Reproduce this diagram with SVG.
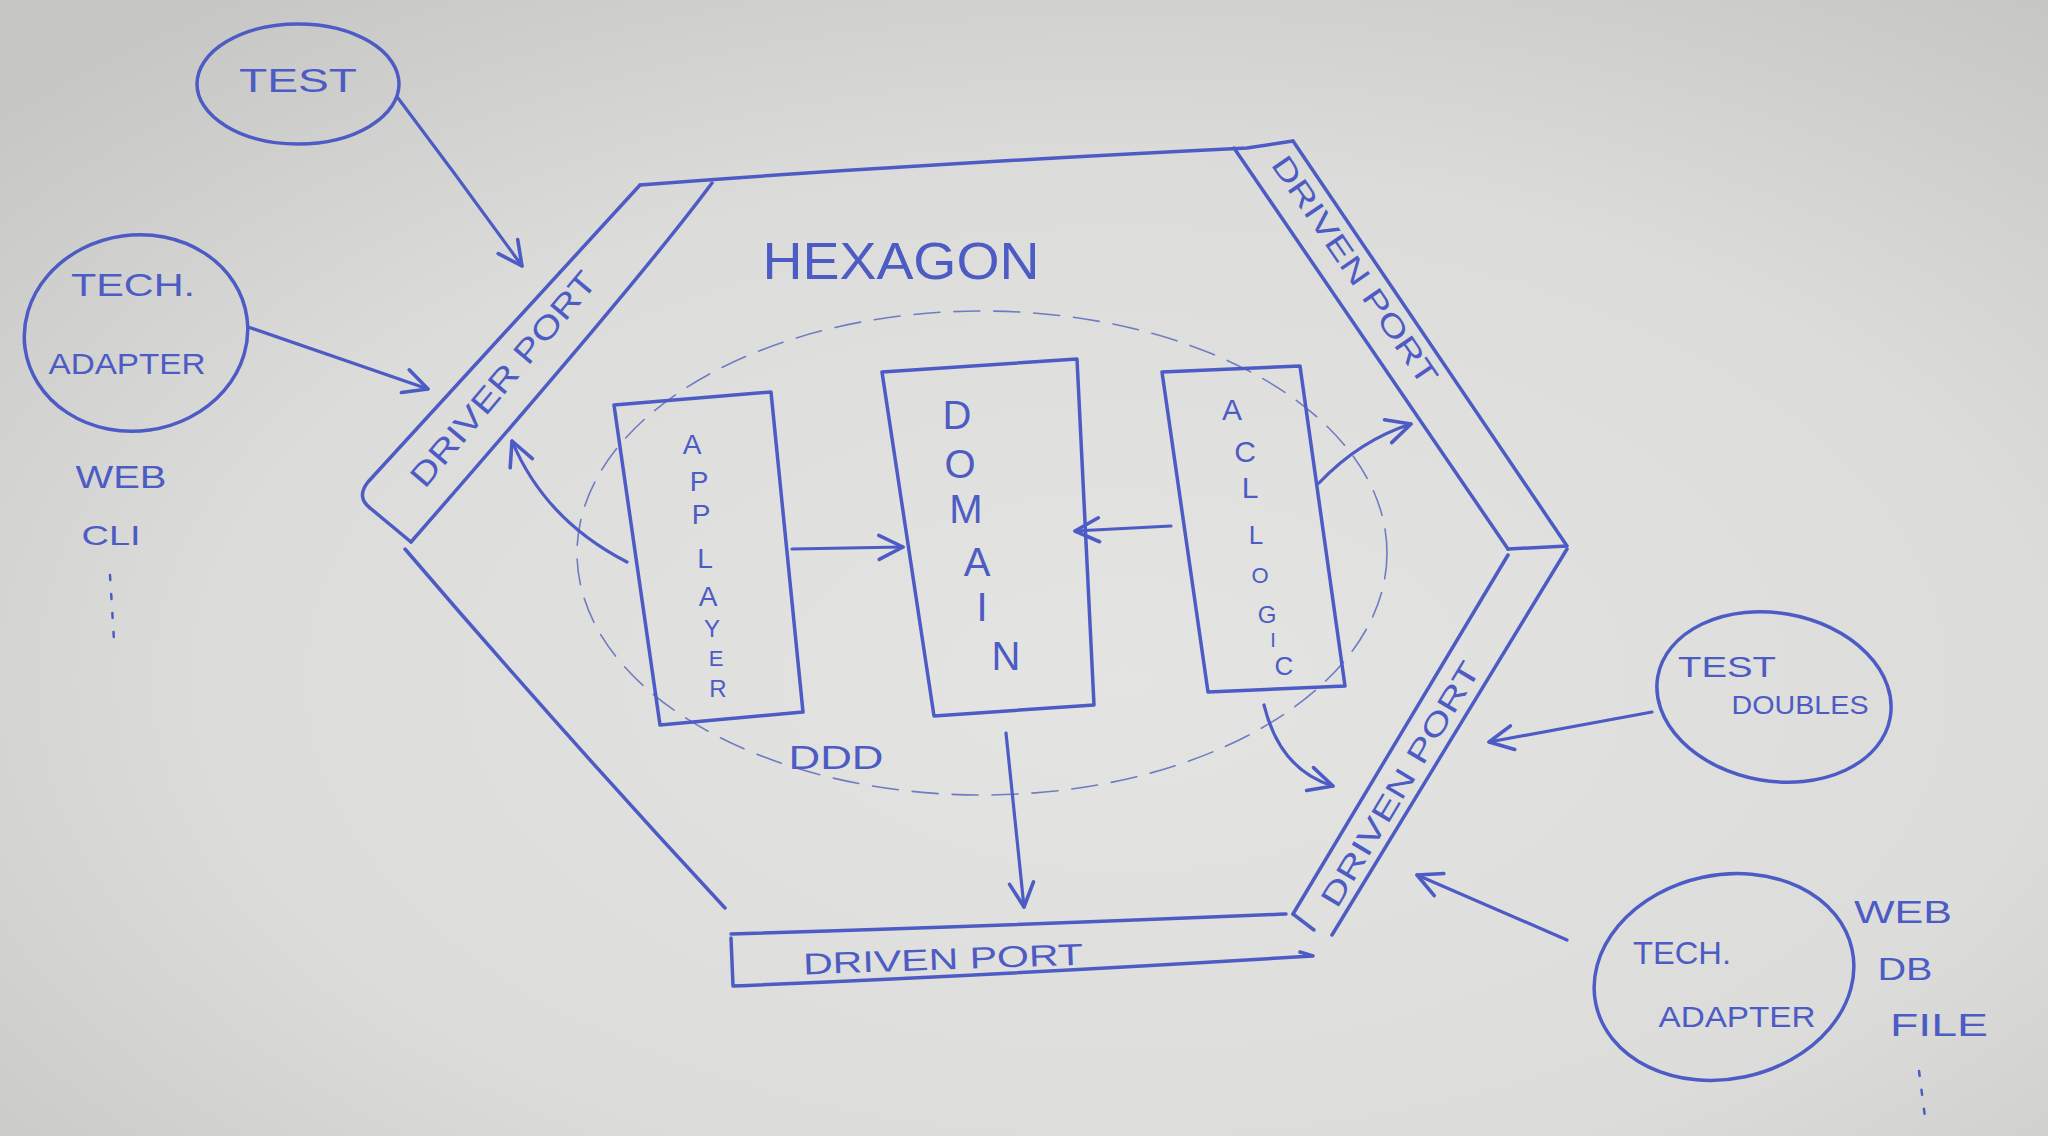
<svg xmlns="http://www.w3.org/2000/svg" width="2048" height="1136" viewBox="0 0 2048 1136">
<defs>
<radialGradient id="paper" cx="55%" cy="60%" r="75%">
<stop offset="0" stop-color="#e4e4e2"/>
<stop offset="0.6" stop-color="#dcdcda"/>
<stop offset="1" stop-color="#c6c6c4"/>
</radialGradient>
<marker id="arr" viewBox="0 0 20 20" refX="18" refY="10" markerWidth="30" markerHeight="30" markerUnits="userSpaceOnUse" orient="auto">
<path d="M2,2 L18,10 L2,18" fill="none" stroke="#4c5cc4" stroke-width="2.4" stroke-linecap="round" stroke-linejoin="round"/>
</marker>
<style>
.pen{fill:none;stroke:#4c5cc4;stroke-width:3.5;stroke-linecap:round;stroke-linejoin:round}
.thin{fill:none;stroke:#6f7cc4;stroke-width:1.6;stroke-dasharray:26 14;stroke-linecap:round}
.lbl{font-family:"Liberation Sans",Arial,sans-serif;fill:#4c5cc4;text-anchor:middle;dominant-baseline:central}
.con{fill:none;stroke:#4c5cc4;stroke-width:3.2;stroke-linecap:round;marker-end:url(#arr)}
</style>
</defs>
<rect width="2048" height="1136" fill="url(#paper)"/>

<g id="hexagon">
<path class="pen" d="M405,549 Q560,730 725,908"/>
<path class="pen" d="M640,185 Q900,165 1247,148 L1293,141"/>
<text class="lbl" x="901" y="261" font-size="52" textLength="277" lengthAdjust="spacingAndGlyphs">HEXAGON</text>
</g>

<g id="driver-port">
<path class="pen" d="M640,185 L368,482 Q356,497 370,508 L411,542"/>
<path class="pen" d="M712,183 Q640,280 411,542"/>
<text class="lbl" font-size="32" transform="translate(503,379) rotate(-50)" textLength="270" lengthAdjust="spacingAndGlyphs">DRIVER PORT</text>
</g>

<g id="driven-port-top">
<path class="pen" d="M1234,148 L1508,549"/>
<path class="pen" d="M1293,141 L1567,546 L1508,549"/>
<text class="lbl" font-size="30" transform="translate(1355,270) rotate(55.7)" textLength="270" lengthAdjust="spacingAndGlyphs">DRIVEN PORT</text>
</g>

<g id="driven-port-right">
<path class="pen" d="M1508,555 L1293,914"/>
<path class="pen" d="M1567,549 L1332,935"/>
<path class="pen" d="M1293,914 L1314,930"/>
<text class="lbl" font-size="30" transform="translate(1400,784) rotate(-59)" textLength="280" lengthAdjust="spacingAndGlyphs">DRIVEN PORT</text>
</g>

<g id="driven-port-bottom">
<path class="pen" d="M731,934 Q1000,926 1286,914"/>
<path class="pen" d="M731,938 L733,986 Q1000,975 1313,956 L1300,952"/>
<text class="lbl" font-size="30" transform="translate(943,959) rotate(-2)" textLength="280" lengthAdjust="spacingAndGlyphs">DRIVEN PORT</text>
</g>

<g id="ddd">
<ellipse class="thin" cx="982" cy="553" rx="405" ry="242"/>
<text class="lbl" x="836" y="757" font-size="34" textLength="95" lengthAdjust="spacingAndGlyphs">DDD</text>
</g>

<g id="app-layer">
<path class="pen" d="M614,405 L771,392 L803,712 L660,725 Z"/>
<text class="lbl" font-size="28">
<tspan x="692" y="444">A</tspan><tspan x="699" y="481">P</tspan><tspan x="701" y="514">P</tspan><tspan x="705" y="558">L</tspan><tspan x="708" y="596">A</tspan><tspan x="712" y="628" font-size="24">Y</tspan><tspan x="716" y="658" font-size="22">E</tspan><tspan x="718" y="688" font-size="24">R</tspan>
</text>
</g>

<g id="domain">
<path class="pen" d="M882,372 L1077,359 L1094,705 L934,716 Z"/>
<text class="lbl" font-size="40">
<tspan x="957" y="415">D</tspan><tspan x="960" y="464">O</tspan><tspan x="966" y="509">M</tspan><tspan x="977" y="562">A</tspan><tspan x="982" y="607">I</tspan><tspan x="1006" y="656">N</tspan>
</text>
</g>

<g id="acl-logic">
<path class="pen" d="M1162,372 L1300,366 L1345,686 L1208,692 Z"/>
<text class="lbl" font-size="30">
<tspan x="1232" y="409">A</tspan><tspan x="1245" y="451">C</tspan><tspan x="1250" y="487">L</tspan><tspan x="1256" y="535" font-size="26">L</tspan><tspan x="1260" y="575" font-size="22">O</tspan><tspan x="1267" y="614" font-size="24">G</tspan><tspan x="1273" y="640" font-size="20">I</tspan><tspan x="1284" y="666" font-size="26">C</tspan>
</text>
</g>

<g id="test">
<ellipse class="pen" cx="298" cy="84" rx="101" ry="60"/>
<text class="lbl" x="298" y="80" font-size="34" textLength="118" lengthAdjust="spacingAndGlyphs">TEST</text>
</g>

<g id="tech-adapter-left">
<ellipse class="pen" cx="136" cy="333" rx="112" ry="98" transform="rotate(-8 136 333)"/>
<text class="lbl" x="133" y="285" font-size="32" textLength="124" lengthAdjust="spacingAndGlyphs">TECH.</text>
<text class="lbl" x="127" y="363" font-size="30" textLength="157" lengthAdjust="spacingAndGlyphs">ADAPTER</text>
</g>

<g id="driver-examples">
<text class="lbl" x="121" y="477" font-size="32" textLength="91" lengthAdjust="spacingAndGlyphs">WEB</text>
<text class="lbl" x="111" y="535" font-size="28" textLength="59" lengthAdjust="spacingAndGlyphs">CLI</text>
<path d="M110,575 L114,640" fill="none" stroke="#4c5cc4" stroke-width="2.5" stroke-dasharray="5 14" stroke-linecap="round"/>
</g>

<g id="test-doubles">
<ellipse class="pen" cx="1774" cy="697" rx="118" ry="84" transform="rotate(10 1774 697)"/>
<text class="lbl" x="1727" y="666" font-size="30" textLength="98" lengthAdjust="spacingAndGlyphs">TEST</text>
<text class="lbl" x="1800" y="705" font-size="26" textLength="137" lengthAdjust="spacingAndGlyphs">DOUBLES</text>
</g>

<g id="tech-adapter-right">
<ellipse class="pen" cx="1724" cy="977" rx="131" ry="102" transform="rotate(-12 1724 977)"/>
<text class="lbl" x="1682" y="953" font-size="32" textLength="98" lengthAdjust="spacingAndGlyphs">TECH.</text>
<text class="lbl" x="1737" y="1016" font-size="30" textLength="157" lengthAdjust="spacingAndGlyphs">ADAPTER</text>
</g>

<g id="driven-examples">
<text class="lbl" x="1903" y="912" font-size="32" textLength="98" lengthAdjust="spacingAndGlyphs">WEB</text>
<text class="lbl" x="1905" y="969" font-size="32" textLength="55" lengthAdjust="spacingAndGlyphs">DB</text>
<text class="lbl" x="1939" y="1025" font-size="32" textLength="98" lengthAdjust="spacingAndGlyphs">FILE</text>
<path d="M1919,1071 L1925,1117" fill="none" stroke="#4c5cc4" stroke-width="2.5" stroke-dasharray="5 14" stroke-linecap="round"/>
</g>

<g id="connectors">
<path class="con" d="M398,98 Q460,180 522,266"/>
<path class="con" d="M248,327 L428,389"/>
<path class="con" d="M627,562 Q545,520 512,441"/>
<path class="con" d="M792,549 L903,547"/>
<path class="con" d="M1171,526 L1075,531"/>
<path class="con" d="M1319,483 Q1360,440 1411,424"/>
<path class="con" d="M1264,705 Q1280,770 1333,786"/>
<path class="con" d="M1006,733 L1024,907"/>
<path class="con" d="M1652,712 L1489,742"/>
<path class="con" d="M1567,940 L1417,875"/>
</g>
</svg>
